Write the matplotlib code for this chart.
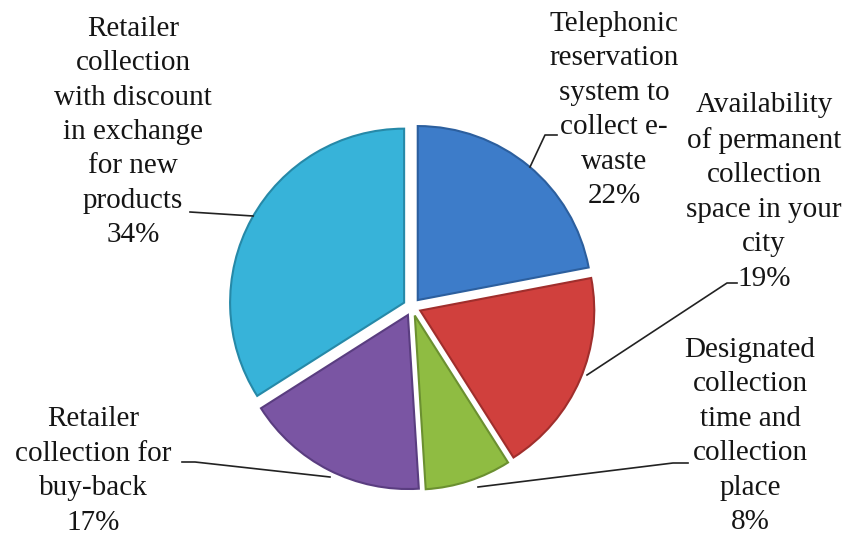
import matplotlib.pyplot as plt

# data
labels = [
    "Telephonic\nreservation\nsystem to\ncollect e-\nwaste",
    "Availability\nof permanent\ncollection\nspace in your\ncity",
    "Designated\ncollection\ntime and\ncollection\nplace",
    "Retailer\ncollection for\nbuy-back",
    "Retailer\ncollection\nwith discount\nin exchange\nfor new\nproducts",
]
shares = [22, 19, 8, 17, 34]
colors = ["#3d7cc9", "#d0403d", "#8fbc42", "#7a55a3", "#37b3d9"]
edges = ["#2c5f9e", "#a02e2c", "#6b9030", "#5a3d80", "#2689a8"]

W, H = 848, 537


def py(y):
    # image row -> data y (y axis points up)
    return H - y


fig = plt.figure(figsize=(W / 100, H / 100), dpi=100)
ax = fig.add_axes([0, 0, 1, 1])

wedges, _ = ax.pie(shares, startangle=90, counterclock=False,
                   colors=colors, center=(412, py(307)), radius=174,
                   explode=[9] * len(shares),
                   wedgeprops=dict(linewidth=1.5))
for w, ec in zip(wedges, edges):
    w.set_edgecolor(ec)

ax.set_xlim(0, W)
ax.set_ylim(0, H)
ax.set_aspect("equal")
ax.axis("off")

# label placement (text block centres) and leader lines, in image pixels
label_pos = [(614, 110), (764, 192), (750, 436), (93, 471), (133, 132)]
leaders = [
    [(530, 167), (545, 135), (557, 135)],
    [(587, 375), (727, 283), (737, 283)],
    [(478, 487), (673, 463), (688, 463)],
    [(330, 477), (195, 462), (182, 462)],
    [(253, 216), (190, 212)],
]

for lab, pct, (x, y), pts in zip(labels, shares, label_pos, leaders):
    ax.text(x, py(y), f"{lab}\n{pct}%", ha="center", va="center",
            family="Liberation Serif", fontsize=21, linespacing=1.42,
            color="#151515")
    ax.plot([p[0] for p in pts], [py(p[1]) for p in pts],
            color="#222222", lw=1.2)

fig.savefig("out.png", dpi=100)
